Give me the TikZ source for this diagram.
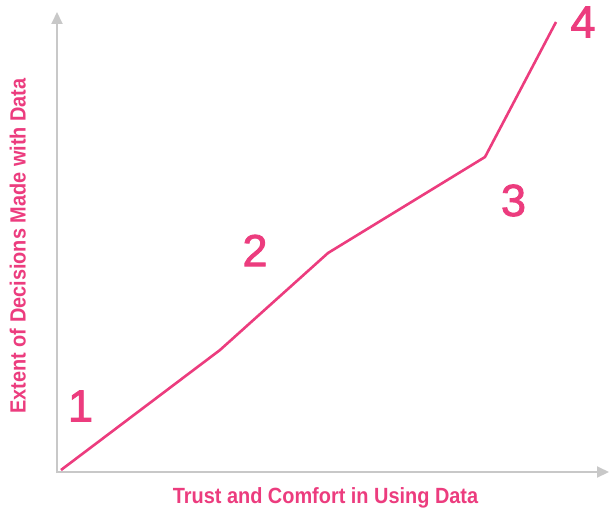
\documentclass[tikz,border=0pt]{standalone}
\usepackage{fontspec}
\setmainfont{Liberation Sans}
\newfontfamily\condbold[FakeStretch=0.905]{Liberation Sans}
\newfontfamily\digitfont{Liberation Sans}
\newcommand{\heavytext}[1]{\special{pdf:literal direct 2 Tr 0.9 w}#1\special{pdf:literal direct 0 Tr}}
\usetikzlibrary{arrows.meta}
\definecolor{chartpink}{RGB}{236,60,126}
\definecolor{axisgray}{RGB}{200,200,200}
\tikzset{
  axisline/.style={draw=axisgray, line width=2pt, -{Triangle[length=12pt,width=11pt]}},
  trendline/.style={draw=chartpink, line width=2.6pt, line join=round},
  stagenum/.style={text=chartpink, font=\digitfont\fontsize{45}{45}\selectfont, inner sep=0pt},
  axislabel/.style={text=chartpink, font=\condbold\bfseries\fontsize{22}{22}\selectfont, inner sep=0pt}
}
\begin{document}
\begin{tikzpicture}[x=1pt,y=-1pt]
\useasboundingbox (0,0) rectangle (609,508);
\coordinate (o) at (57,472);
\coordinate (ytop) at (57,12);
\coordinate (xend) at (609,472);
\draw[axisline] (57,473) -- (ytop);
\draw[axisline] (56,472) -- (xend);
\coordinate (p0) at (61,470);
\coordinate (p1) at (220,350);
\coordinate (p2) at (328,253);
\coordinate (p3) at (485,157);
\coordinate (p4) at (556,22);
\draw[trendline] (p0) -- (p1) -- (p2) -- (p3) -- (p4);
\node[stagenum] (n1) at (80.5,406) {\heavytext{1}};
\node[stagenum] (n2) at (255,250.5) {\heavytext{2}};
\node[stagenum] (n3) at (513.5,200.5) {\heavytext{3}};
\node[stagenum] (n4) at (583,22) {\heavytext{4}};
\node[axislabel, anchor=base] (xl) at (325.5,503) {Trust and Comfort in Using Data};
\node[axislabel, anchor=base, rotate=90] (yl) at (25.5,246) {Extent of Decisions Made with Data};
\end{tikzpicture}
\end{document}
